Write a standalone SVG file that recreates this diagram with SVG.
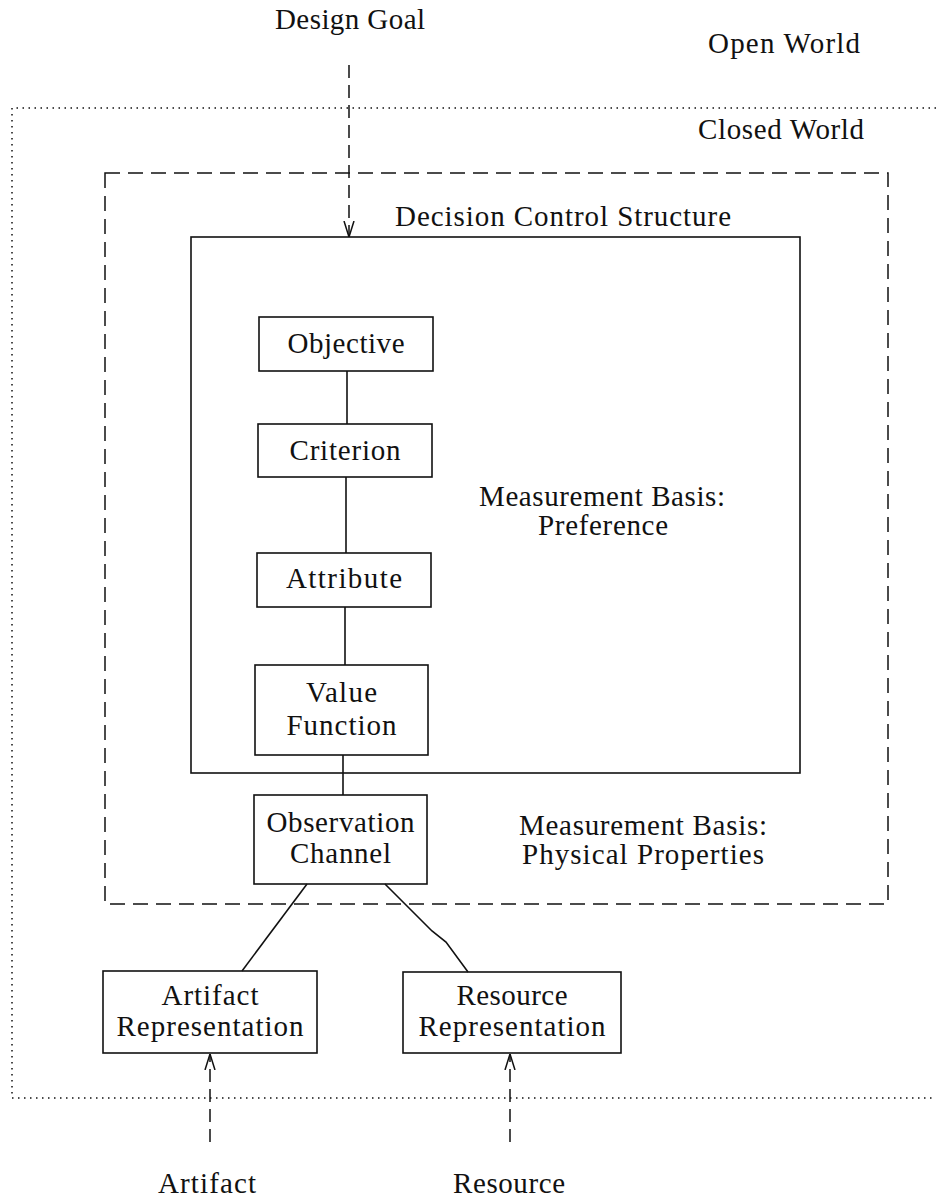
<svg xmlns="http://www.w3.org/2000/svg" width="936" height="1200" viewBox="0 0 936 1200">
  <style>
    text { font-family: "Liberation Serif", "Times New Roman", serif; font-size: 29px; fill: #111; text-anchor: middle; }
    .box { fill: none; stroke: #111; stroke-width: 1.6; }
    .link { fill: none; stroke: #111; stroke-width: 1.6; }
    .flow { fill: none; stroke: #111; stroke-width: 1.5; stroke-dasharray: 13 7; }
    .region { fill: none; stroke: #111; stroke-width: 1.5; stroke-dasharray: 15 8; }
    .world { fill: none; stroke: #111; stroke-width: 1.5; stroke-dasharray: 1.5 4.5; }
  </style>
  <defs>
    <marker id="vee" viewBox="0 0 16 12" refX="16" refY="6" markerWidth="16" markerHeight="12" markerUnits="userSpaceOnUse" orient="auto">
      <path d="M0,1 L16,6 L0,11" fill="none" stroke="#111" stroke-width="1.5" stroke-dasharray="none"/>
    </marker>
  </defs>

  <rect width="936" height="1200" fill="#fff"/>

  <!-- open / closed world boundary -->
  <g id="world-boundary">
    <polyline class="world" points="936,108 12,108 12,1098 936,1098"/>
    <text x="784" y="53" textLength="152">Open World</text>
    <text x="781" y="139" textLength="166">Closed World</text>
  </g>

  <!-- measurement region: physical properties -->
  <g id="physical-region">
    <rect class="region" x="105" y="173" width="783" height="731"/>
    <text x="643" y="835" textLength="248">Measurement Basis:</text>
    <text x="643" y="864" textLength="242">Physical Properties</text>
  </g>

  <!-- decision control structure -->
  <g id="decision-control">
    <rect class="box" x="191" y="237" width="609" height="536"/>
    <text x="563" y="226" textLength="336">Decision Control Structure</text>
    <text x="602" y="506" textLength="246">Measurement Basis:</text>
    <text x="603" y="535" textLength="130">Preference</text>
  </g>

  <g id="objective">
    <rect class="box" x="259" y="317" width="174" height="54"/>
    <text x="346" y="353" textLength="117">Objective</text>
  </g>
  <g id="criterion">
    <rect class="box" x="258" y="424" width="174" height="53"/>
    <text x="345" y="460" textLength="111">Criterion</text>
  </g>
  <g id="attribute">
    <rect class="box" x="257" y="553" width="174" height="54"/>
    <text x="344" y="588" textLength="116">Attribute</text>
  </g>
  <g id="value-function">
    <rect class="box" x="255" y="665" width="173" height="90"/>
    <text x="341.5" y="702" textLength="71">Value</text>
    <text x="341.5" y="735" textLength="110">Function</text>
  </g>
  <g id="observation-channel">
    <rect class="box" x="254" y="795" width="173" height="89"/>
    <text x="340.5" y="832" textLength="148">Observation</text>
    <text x="340.5" y="863" textLength="101">Channel</text>
  </g>
  <g id="artifact-representation">
    <rect class="box" x="103" y="971" width="214" height="82"/>
    <text x="210" y="1005" textLength="97">Artifact</text>
    <text x="210" y="1036" textLength="187">Representation</text>
  </g>
  <g id="resource-representation">
    <rect class="box" x="403" y="972" width="218" height="81"/>
    <text x="512" y="1005" textLength="111">Resource</text>
    <text x="512" y="1036" textLength="187">Representation</text>
  </g>

  <!-- external inputs -->
  <g id="design-goal">
    <text x="350" y="29" textLength="150">Design Goal</text>
  </g>
  <g id="artifact">
    <text x="207" y="1193" textLength="98">Artifact</text>
  </g>
  <g id="resource">
    <text x="509" y="1193" textLength="112">Resource</text>
  </g>

  <!-- connectors -->
  <g id="connectors">
    <line class="link" x1="347" y1="371" x2="347" y2="424"/>
    <line class="link" x1="346" y1="477" x2="346" y2="553"/>
    <line class="link" x1="345" y1="607" x2="345" y2="665"/>
    <line class="link" x1="343" y1="755" x2="343" y2="795"/>
    <line class="link" x1="307" y1="884" x2="242" y2="971"/>
    <polyline class="link" points="385,884 432,931 446,942 468,972"/>
    <line class="flow" x1="349" y1="65" x2="349" y2="237" marker-end="url(#vee)"/>
    <line class="flow" x1="210" y1="1142" x2="210" y2="1054" marker-end="url(#vee)"/>
    <line class="flow" x1="510" y1="1142" x2="510" y2="1054" marker-end="url(#vee)"/>
  </g>
</svg>
